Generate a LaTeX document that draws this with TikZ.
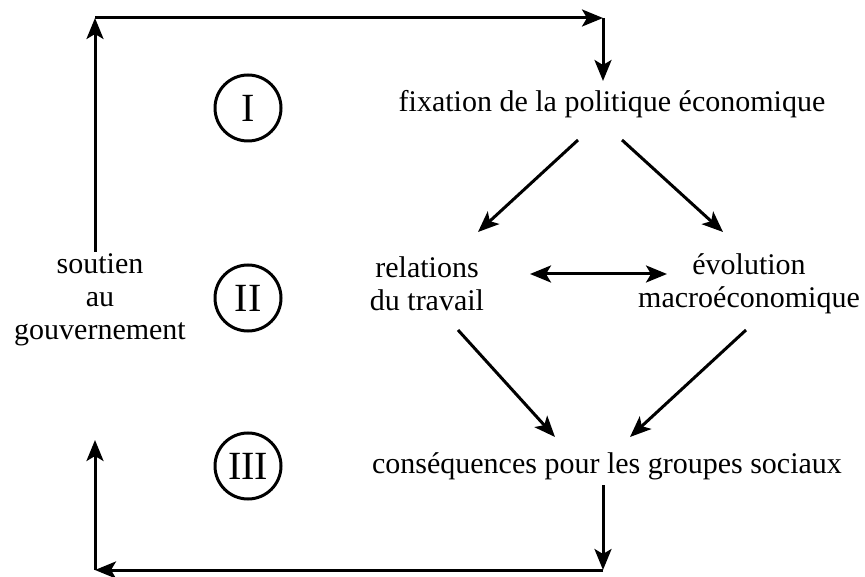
\documentclass[tikz,border=0pt]{standalone}
\usepackage{fontspec}
\setmainfont{Liberation Serif}
\usetikzlibrary{arrows.meta}
\begin{document}
\begin{tikzpicture}[x=1pt,y=-1pt,
 line width=3pt,
 tip/.tip={Stealth[length=21pt,width=17pt,inset=5pt]},
 arr/.style={-tip},
 darr/.style={tip-tip},
 lbl/.style={font=\fontsize{30}{33}\selectfont, align=center, inner sep=0pt},
 num/.style={circle, draw, line width=3pt, minimum size=66pt, inner sep=0pt, font=\fontsize{40}{40}\selectfont}]
\useasboundingbox (0,0) rectangle (865,577);
% text nodes
\node[lbl] (fix) at (612,104) {fixation de la politique économique};
\node[lbl] (rel) at (427,284) {relations\\du travail};
\node[lbl] (evo) at (749,284) {évolution\\macroéconomique};
\node[lbl] (cons) at (607,466) {conséquences pour les groupes sociaux};
\node[lbl] (sout) at (100,300) {soutien\\au\\gouvernement};
% numerals
\node[num] (n1) at (248,108) {I};
\node[num] (n2) at (248,298) {II};
\node[num] (n3) at (248,466) {III};
% corners
\coordinate (tl) at (95,18);
\coordinate (tr) at (603,18);
\coordinate (bl) at (95,570);
\coordinate (br) at (603,570);
\coordinate (fixin) at (603,81);
\coordinate (consout) at (603,485);
\coordinate (soutup) at (95,252);
\coordinate (soutdn) at (95,440);
% feedback loop
\draw[arr] (soutup) -- (tl);
\draw[arr] (tl) -- (tr);
\draw[arr] (tr) -- (fixin);
\draw[arr] (consout) -- (br);
\draw[arr] (br) -- (bl);
\draw[arr] (bl) -- (soutdn);
% diamond
\coordinate (f1) at (578,140);
\coordinate (f2) at (622,140);
\coordinate (r1) at (478,232);
\coordinate (e1) at (723,232);
\coordinate (r2) at (458,330);
\coordinate (e2) at (746,330);
\coordinate (c1) at (555,437);
\coordinate (c2) at (630,437);
\draw[arr] (f1) -- (r1);
\draw[arr] (f2) -- (e1);
\draw[arr] (r2) -- (c1);
\draw[arr] (e2) -- (c2);
\draw[darr] (530,274) -- (667,274);
\end{tikzpicture}
\end{document}
